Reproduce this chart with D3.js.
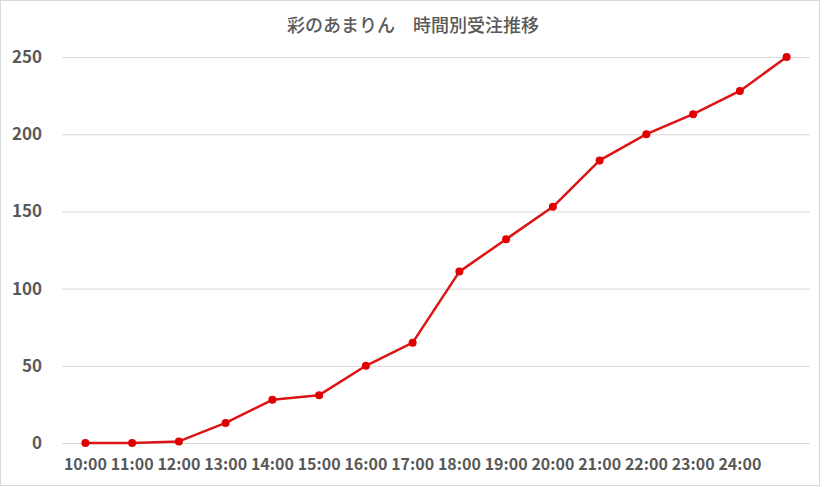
<!DOCTYPE html>
<html><head><meta charset="utf-8">
<script src="https://cdn.jsdelivr.net/npm/d3@7"></script>
<style>
html,body{margin:0;padding:0;background:#fff;}
svg{display:block;}
</style></head>
<body>
<script>
const title = "彩のあまりん　時間別受注推移";
const categories = ["10:00","11:00","12:00","13:00","14:00","15:00","16:00","17:00","18:00","19:00","20:00","21:00","22:00","23:00","24:00",""];
const orders = [0,0,1,13,28,31,50,65,111,132,153,183,200,213,228,250];
const yTicks = [0,50,100,150,200,250];

(function(){
const W = 825, H = 487;
const svg = d3.select("body").append("svg").attr("width", W).attr("height", H);
svg.append("rect").attr("x",0.5).attr("y",0.5).attr("width",W-6).attr("height",H-2)
  .attr("fill","#fff").attr("stroke","#d9d9d9").attr("stroke-width",1);

const mLeft = 62, mRight = 810, mTop = 57, mBottom = 443;
const x = d3.scaleBand().domain(d3.range(categories.length)).range([mLeft, mRight]);
const y = d3.scaleLinear().domain([0,250]).range([mBottom, mTop]);

const font = "'Noto Sans CJK JP', 'Open Sans', sans-serif";

svg.append("text").attr("x", 413).attr("y", 32).attr("text-anchor","middle")
  .attr("font-family", font).attr("font-size", 18).attr("font-weight", 500).attr("fill","#595959").text(title);

const yAxis = d3.axisLeft(y).tickValues(yTicks).tickSize(-(mRight-mLeft)).tickPadding(20);
const gy = svg.append("g").attr("transform", `translate(${mLeft},0)`).call(yAxis);
gy.select(".domain").remove();
gy.selectAll(".tick line").attr("stroke","#d9d9d9").attr("stroke-width",1);
gy.selectAll(".tick text").attr("font-family", font).attr("font-size", 17).attr("font-weight", 700).attr("fill","#595959");

const xAxis = d3.axisBottom(x).tickFormat(i => categories[i]).tickSize(0).tickPadding(16);
const gx = svg.append("g").attr("transform", `translate(0,${mBottom})`).call(xAxis);
gx.select(".domain").remove();
gx.selectAll(".tick text").attr("font-family", font).attr("font-size", 16).attr("font-weight", 700).attr("fill","#595959");

const cx = i => x(i) + x.bandwidth()/2;
const line = d3.line().x((d,i) => cx(i)).y(d => y(d));
svg.append("path").datum(orders).attr("d", line).attr("fill","none")
  .attr("stroke","#dc1414").attr("stroke-width",2.5).attr("stroke-linejoin","round");
svg.selectAll("circle.pt").data(orders).enter().append("circle").attr("class","pt")
  .attr("cx", (d,i) => cx(i)).attr("cy", d => y(d)).attr("r", 4).attr("fill","#e00000");
})();
</script>
</body></html>
